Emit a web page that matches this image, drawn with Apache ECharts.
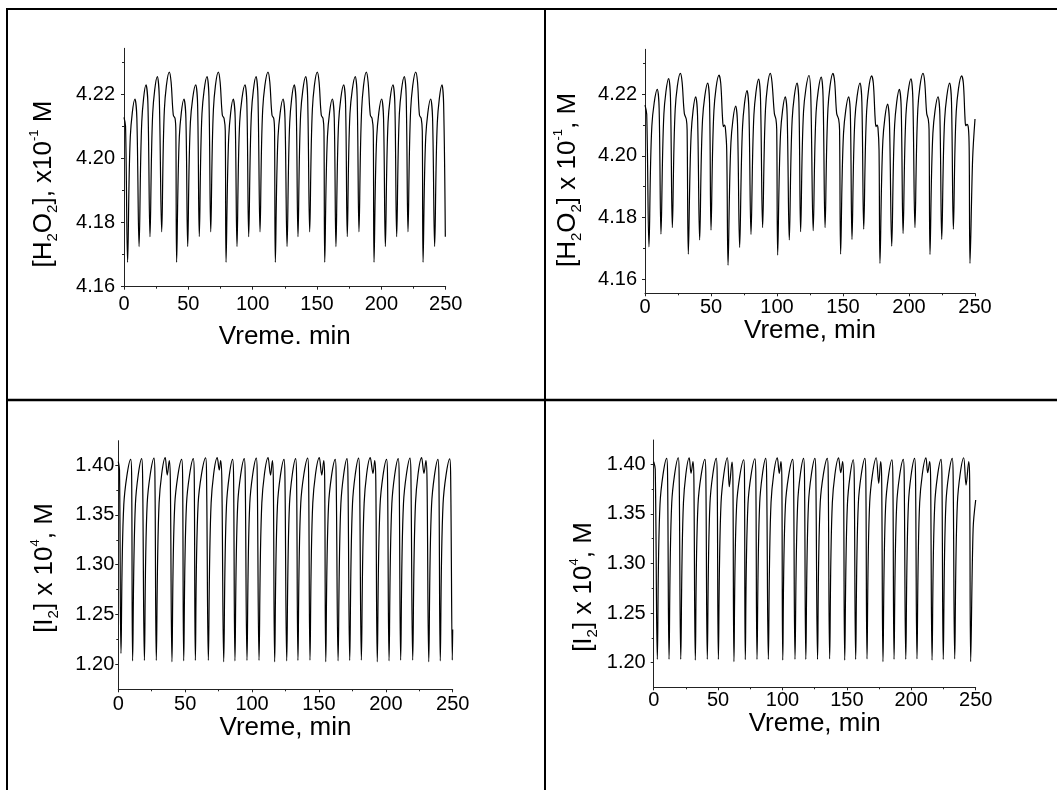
<!DOCTYPE html>
<html>
<head>
<meta charset="utf-8">
<script src="https://cdn.jsdelivr.net/npm/echarts/dist/echarts.min.js"></script>
<style>
html,body{margin:0;padding:0;background:#fff;}
#c{width:1057px;height:790px;}
</style>
</head>
<body>
<div id="c"></div>
<script>
// ---------- data (time in min, concentration) ----------
const xTitles = ['Vreme. min', 'Vreme, min', 'Vreme, min', 'Vreme, min'];
const xTickStep = 50;
const h2o2YTicks = [4.16, 4.18, 4.20, 4.22];
const h2o2YMinor = [4.17, 4.19, 4.21, 4.23];
const i2YTicks = [1.20, 1.25, 1.30, 1.35, 1.40];
const i2YMinor = [1.225, 1.275, 1.325, 1.375];

// top-left: [H2O2]
const tlData = [
[0,4.2128],[1.2,4.2100],[2.8,4.1676],
[4.9,4.2068],[8.5,4.2185],[10.0,4.2125],[11.7,4.1725],
[13.8,4.2113],[17.1,4.2229],[18.6,4.2168],[20.2,4.1756],
[22.3,4.2140],[25.9,4.2255],[27.4,4.2192],[29.3,4.1771],
[31.4,4.2154],[35.2,4.2269],[36.6,4.2238],[38.3,4.2135],[39.7,4.2124],[40.3,4.2085],[40.9,4.1676],
[43.0,4.2068],[46.6,4.2185],[48.1,4.2125],[49.5,4.1725],
[51.6,4.2113],[55.7,4.2229],[57.2,4.2168],[58.5,4.1756],
[60.6,4.2140],[64.5,4.2255],[66.0,4.2192],[67.4,4.1771],
[69.5,4.2154],[73.3,4.2269],[74.7,4.2238],[76.4,4.2135],[77.8,4.2124],[78.7,4.2085],[79.3,4.1676],
[81.4,4.2068],[84.9,4.2185],[86.4,4.2125],[87.8,4.1725],
[89.9,4.2113],[94.0,4.2229],[95.5,4.2168],[96.9,4.1756],
[99.0,4.2140],[102.6,4.2255],[104.1,4.2192],[105.7,4.1771],
[107.8,4.2154],[111.9,4.2269],[113.3,4.2238],[115.0,4.2135],[116.4,4.2124],[117.0,4.2085],[117.6,4.1676],
[119.7,4.2068],[123.6,4.2185],[125.1,4.2125],[126.7,4.1725],
[128.8,4.2113],[132.3,4.2229],[133.8,4.2168],[135.2,4.1756],
[137.3,4.2140],[141.2,4.2255],[142.7,4.2192],[144.3,4.1771],
[146.4,4.2154],[150.2,4.2269],[151.6,4.2238],[153.3,4.2135],[154.7,4.2124],[155.4,4.2085],[156.0,4.1676],
[158.1,4.2068],[161.9,4.2185],[163.4,4.2125],[164.7,4.1725],
[166.8,4.2113],[170.7,4.2229],[172.2,4.2168],[173.5,4.1756],
[175.6,4.2140],[179.7,4.2255],[181.2,4.2192],[182.6,4.1771],
[184.7,4.2154],[188.3,4.2269],[189.7,4.2238],[191.4,4.2135],[192.8,4.2124],[193.7,4.2085],[194.3,4.1676],
[196.4,4.2068],[200.2,4.2185],[201.7,4.2125],[203.1,4.1725],
[205.2,4.2113],[209.0,4.2229],[210.5,4.2168],[211.9,4.1756],
[214.0,4.2140],[217.8,4.2255],[219.3,4.2192],[220.7,4.1771],
[222.8,4.2154],[226.7,4.2269],[228.1,4.2238],[229.6,4.2135],[231.0,4.2124],[231.8,4.2085],[232.4,4.1676],
[234.5,4.2068],[238.3,4.2185],[239.8,4.2125],[241.4,4.1725],
[243.5,4.2113],[247.1,4.2229],[248.4,4.2168],[249.7,4.1756]
];

// top-right: [H2O2]
const trData = [
[0,4.2165],[1.3,4.2135],[3.0,4.1705],
[5.2,4.2098],[9.3,4.2216],[10.7,4.2155],[12.1,4.1746],
[14.3,4.2135],[17.9,4.2251],[19.3,4.2188],[20.7,4.1767],
[22.9,4.2153],[26.8,4.2268],[28.1,4.2240],[29.8,4.2138],[31.3,4.2119],[31.9,4.2085],[32.8,4.1681],
[35.0,4.2074],[38.4,4.2192],[39.8,4.2132],[41.4,4.1727],
[43.6,4.2119],[47.5,4.2236],[48.9,4.2174],[50.0,4.1759],
[52.2,4.2146],[56.1,4.2262],[57.4,4.2235],[58.7,4.2125],[59.4,4.2095],[60.2,4.2100],[60.9,4.2090],[61.9,4.2020],[62.9,4.1645],
[65.1,4.2043],[68.7,4.2162],[70.1,4.2102],[71.7,4.1703],
[73.9,4.2095],[77.3,4.2212],[78.7,4.2151],[80.3,4.1745],
[82.5,4.2133],[86.1,4.2249],[87.5,4.2186],[89.1,4.1767],
[91.3,4.2153],[94.9,4.2268],[96.2,4.2240],[98.0,4.2138],[99.2,4.2119],[99.8,4.2085],[100.5,4.1678],
[102.7,4.2074],[106.3,4.2192],[107.7,4.2132],[109.3,4.1727],
[111.5,4.2119],[115.2,4.2236],[116.6,4.2173],[117.9,4.1754],
[120.1,4.2144],[124.2,4.2261],[125.6,4.2195],[127.4,4.1757],
[129.6,4.2141],[133.5,4.2256],[134.9,4.2192],[136.4,4.1767],
[138.6,4.2153],[142.4,4.2268],[143.7,4.2240],[145.2,4.2138],[146.7,4.2119],[147.4,4.2085],[148.2,4.1681],
[150.4,4.2074],[154.3,4.2192],[155.6,4.2132],[156.8,4.1729],
[159.0,4.2119],[162.9,4.2236],[164.3,4.2174],[165.7,4.1762],
[167.9,4.2145],[171.7,4.2260],[173.0,4.2235],[174.3,4.2125],[175.0,4.2095],[175.8,4.2100],[176.5,4.2090],[177.3,4.2020],[178.0,4.1651],
[180.2,4.2049],[183.8,4.2168],[185.2,4.2108],[186.9,4.1707],
[189.1,4.2099],[192.7,4.2216],[194.1,4.2155],[195.5,4.1748],
[197.7,4.2135],[201.5,4.2250],[202.9,4.2187],[204.5,4.1767],
[206.7,4.2153],[210.6,4.2268],[211.9,4.2240],[213.4,4.2138],[214.6,4.2119],[215.2,4.2085],[215.9,4.1680],
[218.1,4.2074],[222.0,4.2192],[223.4,4.2132],[224.8,4.1729],
[227.0,4.2119],[230.8,4.2236],[232.2,4.2174],[233.6,4.1762],
[235.8,4.2145],[239.9,4.2260],[241.2,4.2235],[242.4,4.2125],[243.0,4.2098],[243.9,4.2102],[245.0,4.2090],[245.6,4.2020],[246.2,4.1651],
[248.2,4.1990],[250,4.2120]
];

// bottom-left: [I2]
const blData = [
[0,1.4035],[0.9,1.3950],[2.0,1.2110],
[4.1,1.3600],[9.3,1.4057],[10.0,1.3860],[10.7,1.2036],
[12.8,1.3610],[17.5,1.4064],[18.2,1.3860],[19.5,1.2040],
[21.6,1.3615],[26.7,1.4070],[27.4,1.3860],[28.4,1.2040],
[30.5,1.3620],[35.1,1.4074],[36.6,1.3899],[38.1,1.4044],[38.9,1.3850],[40.1,1.2026],
[42.2,1.3600],[47.4,1.4057],[48.1,1.3860],[48.9,1.2036],
[51.0,1.3610],[56.1,1.4064],[56.8,1.3860],[57.6,1.2040],
[59.7,1.3615],[65.3,1.4072],[66.0,1.3860],[67.3,1.2040],
[69.4,1.3620],[74.0,1.4074],[75.5,1.3950],[76.5,1.4044],[77.4,1.3850],[78.8,1.2026],
[80.9,1.3600],[85.5,1.4057],[86.2,1.3860],[87.2,1.2036],
[89.3,1.3610],[94.2,1.4064],[94.9,1.3860],[96.2,1.2040],
[98.3,1.3615],[103.2,1.4070],[103.9,1.3860],[105.2,1.2040],
[107.3,1.3620],[112.0,1.4074],[113.8,1.3899],[115.2,1.4044],[115.9,1.3850],[116.9,1.2026],
[119.0,1.3600],[123.9,1.4057],[124.6,1.3860],[125.9,1.2036],
[128.0,1.3610],[132.6,1.4064],[133.3,1.3860],[134.3,1.2040],
[136.4,1.3615],[141.6,1.4070],[142.3,1.3860],[143.3,1.2043],
[145.4,1.3620],[150.3,1.4074],[152.1,1.3899],[153.6,1.4044],[154.3,1.3850],[155.1,1.2026],
[157.2,1.3600],[162.2,1.4057],[162.9,1.3860],[164.3,1.2036],
[166.4,1.3610],[171.0,1.4064],[171.7,1.3860],[173.0,1.2040],
[175.1,1.3615],[179.7,1.4070],[180.4,1.3860],[181.7,1.2043],
[183.8,1.3620],[188.4,1.4074],[190.4,1.3916],[191.7,1.4044],[192.5,1.3850],[193.6,1.2026],
[195.7,1.3600],[200.6,1.4057],[201.3,1.3860],[202.4,1.2036],
[204.5,1.3610],[209.3,1.4064],[210.0,1.3860],[211.1,1.2043],
[213.2,1.3615],[218.1,1.4070],[218.8,1.3860],[220.1,1.2043],
[222.2,1.3620],[226.8,1.4074],[228.5,1.3916],[230.0,1.4044],[230.8,1.3850],[232.1,1.2026],
[234.2,1.3600],[239.0,1.4057],[239.7,1.3860],[240.7,1.2036],
[242.8,1.3610],[247.8,1.4062],[248.5,1.3860],[249.7,1.2043],
[250,1.2350]
];

// bottom-right: [I2]
const brData = [
[0,1.4026],[1.2,1.3950],[2.8,1.2034],
[4.9,1.3600],[10.1,1.4060],[10.8,1.3860],[11.9,1.2034],
[14.0,1.3610],[19.1,1.4066],[19.8,1.3860],[21.0,1.2034],
[23.1,1.3615],[27.6,1.4066],[29.0,1.3909],[30.5,1.4026],[31.2,1.3850],[32.3,1.2026],
[34.4,1.3595],[39.8,1.4050],[40.5,1.3860],[41.6,1.2034],
[43.7,1.3610],[48.6,1.4060],[49.3,1.3860],[50.2,1.2034],
[52.3,1.3615],[57.2,1.4066],[58.7,1.3774],[60.8,1.4022],[61.5,1.3850],[62.3,1.2010],
[64.4,1.3590],[69.9,1.4046],[70.5,1.3860],[71.1,1.2030],
[73.2,1.3600],[78.6,1.4056],[79.3,1.3860],[80.2,1.2034],
[82.3,1.3610],[87.0,1.4060],[87.7,1.3860],[89.0,1.2034],
[91.1,1.3615],[96.0,1.4066],[97.5,1.3909],[98.8,1.4026],[99.5,1.3850],[100.2,1.2026],
[102.3,1.3595],[107.9,1.4050],[108.6,1.3860],[109.7,1.2034],
[111.8,1.3610],[116.4,1.4060],[117.1,1.3860],[118.1,1.2034],
[120.2,1.3610],[125.2,1.4060],[125.9,1.3860],[127.2,1.2034],
[129.3,1.3615],[134.8,1.4060],[135.5,1.3860],[136.6,1.2038],
[138.7,1.3615],[143.6,1.4066],[145.2,1.3915],[146.7,1.4026],[147.4,1.3850],[148.3,1.2026],
[150.4,1.3595],[155.0,1.4046],[155.7,1.3860],[156.8,1.2034],
[158.9,1.3610],[164.0,1.4060],[164.7,1.3860],[165.6,1.2038],
[167.7,1.3615],[172.8,1.4066],[174.7,1.3808],[176.2,1.4026],[177.0,1.3850],[178.0,1.2010],
[180.1,1.3590],[185.0,1.4046],[185.7,1.3860],[186.6,1.2034],
[188.7,1.3600],[193.8,1.4050],[194.5,1.3860],[195.7,1.2034],
[197.8,1.3610],[202.6,1.4060],[203.3,1.3860],[204.4,1.2038],
[206.5,1.3615],[211.4,1.4066],[212.7,1.3915],[214.3,1.4026],[215.0,1.3850],[216.1,1.2026],
[218.2,1.3595],[223.1,1.4050],[223.8,1.3860],[224.8,1.2034],
[226.9,1.3610],[231.8,1.4060],[232.5,1.3860],[233.7,1.2038],
[235.8,1.3615],[240.7,1.4066],[242.5,1.3791],[244.6,1.4026],[245.3,1.3850],[246.1,1.2010],
[248.0,1.3350],[250,1.3640]
];

// ---------- layout / style ----------
const FONT = "'Liberation Sans', Arial, sans-serif";
const AX = '#222';
const panels = [
  {data: tlData, ticks: h2o2YTicks, minor: h2o2YMinor, left:124, top:48.3, width:321.7, height:238.4, yMin:4.16, yMax:4.2343, xlm:8, ylm:9, gap:37,
   title:'{n|[H}{s|2}{n|O}{s|2}{n|], x10}{p|-1}{n| M}', tx:44, ty:184},
  {data: trData, ticks: h2o2YTicks, minor: h2o2YMinor, left:645, top:49.3, width:330, height:244, yMin:4.1554, yMax:4.2346, xlm:4, ylm:8, gap:21,
   title:'{n|[H}{s|2}{n|O}{s|2}{n|] x 10}{p|-1}{n|, M}', tx:568, ty:180},
  {data: blData, ticks: i2YTicks, minor: i2YMinor, left:118.3, top:440.7, width:334.4, height:248.6, yMin:1.175, yMax:1.4244, xlm:5, ylm:4, gap:21,
   title:'{n|[I}{s|2}{n|] x 10}{p|4}{n|, M}', tx:45, ty:568},
  {data: brData, ticks: i2YTicks, minor: i2YMinor, left:653.7, top:440, width:322, height:247.3, yMin:1.1752, yMax:1.4245, xlm:3, ylm:8, gap:18,
   title:'{n|[I}{s|2}{n|] x 10}{p|4}{n|, M}', tx:584, ty:587}
];

const rich = {
  n: {fontFamily: FONT, fontSize: 26, color: '#000', lineHeight: 32},
  s: {fontFamily: FONT, fontSize: 15, color: '#000', lineHeight: 15, verticalAlign: 'bottom'},
  p: {fontFamily: FONT, fontSize: 13, color: '#000', lineHeight: 13, verticalAlign: 'top'}
};

const grid = [], xAxis = [], yAxis = [], series = [];
const graphic = [
  {type:'line', shape:{x1:6, y1:9, x2:1057, y2:9}, style:{stroke:'#000', lineWidth:2}},
  {type:'line', shape:{x1:7, y1:8, x2:7, y2:790}, style:{stroke:'#000', lineWidth:2}},
  {type:'line', shape:{x1:545, y1:8, x2:545, y2:790}, style:{stroke:'#000', lineWidth:2}},
  {type:'line', shape:{x1:6, y1:400, x2:1057, y2:400}, style:{stroke:'#000', lineWidth:2.4}}
];

panels.forEach((p, i) => {
  grid.push({left:p.left, top:p.top, width:p.width, height:p.height, containLabel:false});
  xAxis.push({
    type:'value', gridIndex:i, min:0, max:250, interval:xTickStep,
    name: xTitles[i], nameLocation:'middle', nameGap:p.gap,
    nameTextStyle:{fontFamily:FONT, fontSize:26, color:'#000', verticalAlign:'top'},
    axisLine:{show:true, onZero:false, lineStyle:{color:AX, width:1}},
    axisTick:{show:true, inside:false, length:3, lineStyle:{color:AX, width:1}},
    minorTick:{show:true, splitNumber:2, length:2, lineStyle:{color:AX, width:1}},
    axisLabel:{margin:p.xlm, fontFamily:FONT, fontSize:20, color:'#000'},
    splitLine:{show:false}, minorSplitLine:{show:false}
  });
  yAxis.push({
    type:'value', gridIndex:i, min:p.yMin, max:p.yMax, position:'left', offset:0,
    axisLine:{show:true, onZero:false, lineStyle:{color:AX, width:1}},
    axisTick:{show:true, inside:false, length:3, customValues:p.ticks, lineStyle:{color:AX, width:1}},
    axisLabel:{show:true, customValues:p.ticks, margin:p.ylm, fontFamily:FONT, fontSize:20, color:'#000',
      formatter:(v)=>Number(v).toFixed(2)},
    splitLine:{show:false}
  });
  yAxis.push({
    type:'value', gridIndex:i, min:p.yMin, max:p.yMax, position:'left', offset:0,
    axisLine:{show:false},
    axisTick:{show:true, inside:false, length:2, customValues:p.minor, lineStyle:{color:AX, width:1}},
    axisLabel:{show:false}, splitLine:{show:false}
  });
  series.push({
    type:'line', xAxisIndex:i, yAxisIndex:2*i, data:p.data,
    showSymbol:false, symbol:'none', smooth:0.35, silent:true,
    lineStyle:{color:'#000', width:1.2}
  });
  graphic.push({
    type:'text', x:p.tx, y:p.ty, rotation:Math.PI/2,
    style:{text:p.title, rich:rich, align:'center', verticalAlign:'middle', fill:'#000',
      fontFamily:FONT, fontSize:26}
  });
});

const chart = echarts.init(document.getElementById('c'), null, {renderer:'canvas'});
chart.setOption({
  animation:false,
  backgroundColor:'#fff',
  grid, xAxis, yAxis, series, graphic
});
</script>
</body>
</html>
